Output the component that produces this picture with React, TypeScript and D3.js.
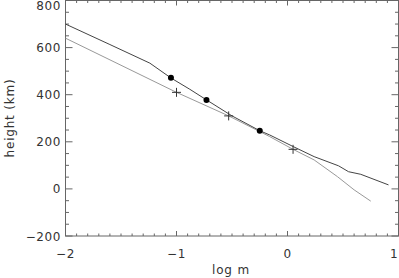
import React from 'react';
import * as d3 from 'd3';

// dark curve (with dots) and light curve (with crosses), height in km vs log m
const darkLogM = [-2.0, -1.6, -1.24, -1.05, -0.88, -0.73, -0.5, -0.25, -0.16, 0.05, 0.24, 0.46, 0.55, 0.66, 0.91];
const darkHeight = [700, 613, 534, 471, 423, 378, 310, 247, 229, 180, 137, 98, 73, 62, 17];
const lightLogM = [-2.0, -1.5, -1.0, -0.53, -0.16, 0.05, 0.24, 0.45, 0.6, 0.75];
const lightHeight = [640, 525, 410, 310, 222, 168, 123, 52, -4, -52];
const dotLogM = [-1.05, -0.73, -0.25];
const dotHeight = [472, 378, 247];
const crossLogM = [-1.0, -0.53, 0.05];
const crossHeight = [410, 310, 168];
const xTicks = [-2, -1, 0, 1];
const yTicks = [-200, 0, 200, 400, 600, 800];

const W = 399, H = 278;
const font = 'DejaVu Sans, sans-serif';

export default function App() {
  const x = d3.scaleLinear().domain([-2, 1]).range([65.5, 398.5]);
  const y = d3.scaleLinear().domain([-200, 800]).range([236, 0.5]);
  const line = d3.line<[number, number]>().x(d => x(d[0])).y(d => y(d[1]));
  const dark = darkLogM.map((v, i) => [v, darkHeight[i]] as [number, number]);
  const light = lightLogM.map((v, i) => [v, lightHeight[i]] as [number, number]);

  const xMinor = d3.range(-20, 11).map(v => v / 10);
  const yMinor = d3.range(-200, 801, 50);
  const fmt = (v: number) => (v < 0 ? '\u2212' + Math.abs(v) : String(v));
  const axisCol = '#666';
  const textCol = '#333';

  return (
    <svg width={W} height={H} style={{ position: 'absolute', left: 0, top: 0 }}>
      <rect width={W} height={H} fill="#fff" />
      {/* frame */}
      <rect x={x(-2)} y={y(800)} width={x(1) - x(-2)} height={y(-200) - y(800)}
        fill="none" stroke={axisCol} strokeWidth={1} />
      {/* x ticks top and bottom */}
      {xMinor.map((v, i) => {
        const major = Math.abs(v - Math.round(v)) < 1e-6;
        const len = major ? 5 : 2.5;
        return (
          <g key={'xt' + i} stroke={axisCol}>
            <line x1={x(v)} x2={x(v)} y1={y(-200)} y2={y(-200) - len} />
            <line x1={x(v)} x2={x(v)} y1={y(800)} y2={y(800) + len} />
          </g>
        );
      })}
      {/* y ticks left and right */}
      {yMinor.map((v, i) => {
        const len = v % 200 === 0 ? 7 : 3.5;
        return (
          <g key={'yt' + i} stroke={axisCol}>
            <line x1={x(-2)} x2={x(-2) + len} y1={y(v)} y2={y(v)} />
            <line x1={x(1)} x2={x(1) - len} y1={y(v)} y2={y(v)} />
          </g>
        );
      })}
      {xTicks.map(v => (
        <text key={'xl' + v} x={Math.min(x(v), 394)} y={258} textAnchor="middle" fontFamily={font}
          fontSize={12} letterSpacing={0.6} fill={textCol}>{fmt(v)}</text>
      ))}
      {yTicks.map(v => (
        <text key={'yl' + v} x={61} y={Math.max(y(v) + 4.5, 9.5)} textAnchor="end" fontFamily={font}
          fontSize={12} letterSpacing={0.6} fill={textCol}>{fmt(v)}</text>
      ))}
      <text x={231} y={274} textAnchor="middle" fontFamily={font} fontSize={12}
        letterSpacing={0.8} fill={textCol}>log m</text>
      <text transform={`translate(14,118) rotate(-90)`} textAnchor="middle" fontFamily={font}
        fontSize={12} letterSpacing={0.8} fill={textCol}>height (km)</text>
      {/* curves */}
      <path d={line(light) ?? ''} fill="none" stroke="#999" strokeWidth={1} />
      <path d={line(dark) ?? ''} fill="none" stroke="#444" strokeWidth={1} />
      {dotLogM.map((v, i) => (
        <circle key={'d' + i} cx={x(v)} cy={y(dotHeight[i])} r={3} fill="#000" />
      ))}
      {crossLogM.map((v, i) => (
        <g key={'c' + i} stroke="#333" strokeWidth={1}>
          <line x1={x(v) - 4.5} x2={x(v) + 4.5} y1={y(crossHeight[i])} y2={y(crossHeight[i])} />
          <line x1={x(v)} x2={x(v)} y1={y(crossHeight[i]) - 4.5} y2={y(crossHeight[i]) + 4.5} />
        </g>
      ))}
    </svg>
  );
}
